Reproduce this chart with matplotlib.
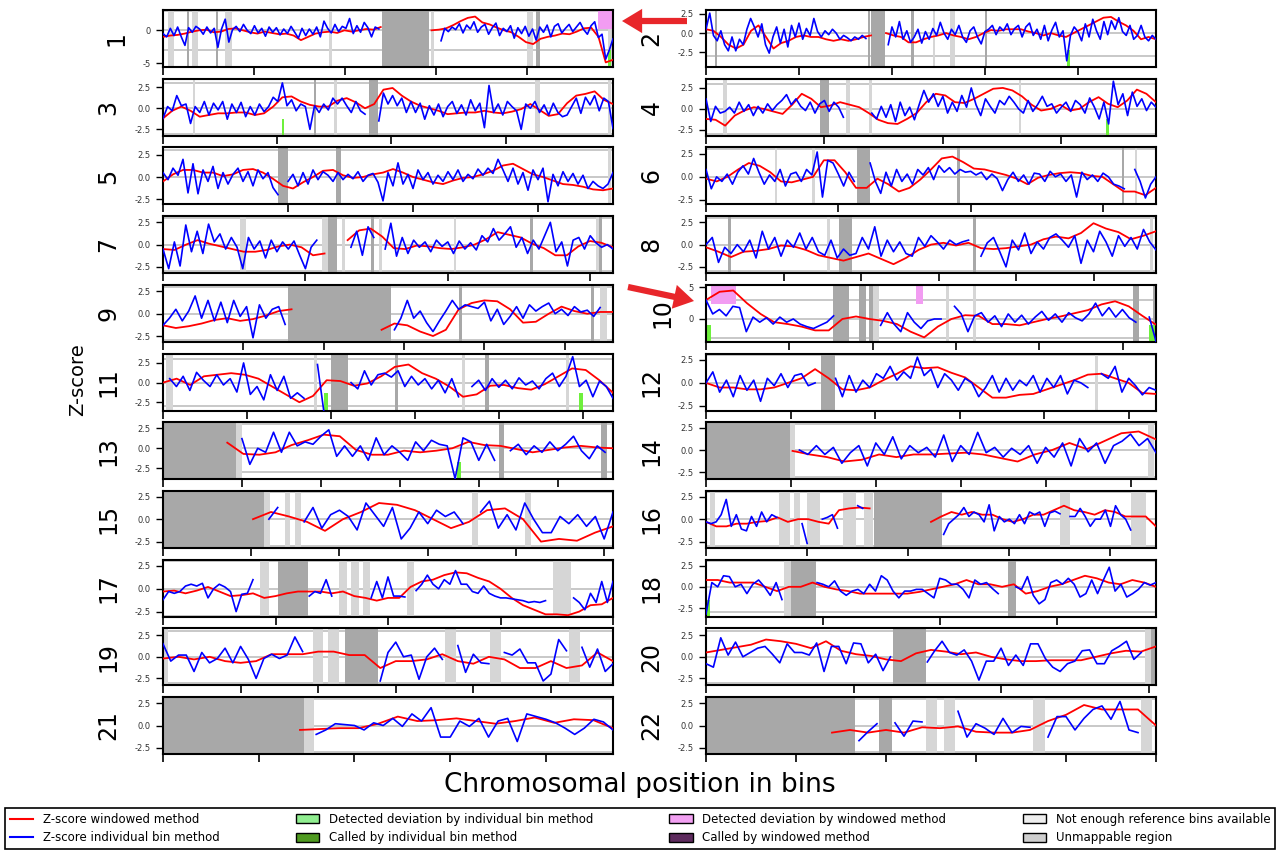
import numpy as np
import matplotlib
matplotlib.use('Agg')
import matplotlib.pyplot as plt
from matplotlib.patches import Patch, FancyArrowPatch, ArrowStyle
from matplotlib.lines import Line2D
from matplotlib.ticker import MaxNLocator

nan = np.nan
plt.rcParams['font.family'] = 'DejaVu Sans'
plt.rcParams['axes.unicode_minus'] = False

# cromosomas y longitud en bins
chroms = [str(i) for i in range(1, 23)]
chrom_len = [247, 242, 197, 190, 180, 170, 158, 145, 140, 135, 134, 133,
             114, 106, 102, 89, 80, 77, 58, 61, 47, 50]
ylims = [(-5.6, 3.1), (-4.4, 3.0), (-3.25, 3.5), (-3.2, 3.6), (-3.1, 3.35), (-3.0, 3.2),
         (-3.2, 3.2), (-3.2, 3.2), (-3.15, 3.25), (-3.6, 5.4), (-3.55, 3.7), (-3.0, 3.2),
         (-3.85, 3.25), (-3.3, 3.15), (-3.2, 3.15), (-3.2, 3.15), (-3.05, 3.2), (-3.5, 3.2),
         (-3.3, 3.3), (-3.3, 3.3), (-3.2, 3.2), (-3.2, 3.2)]

# Z-score individual bin method (azul)
zbin_1 = [-0.5, -1.0, 0.3, -0.8, 0.5, -1.0, -2.3, 0.4, -0.3, 0.6, 0.2, -0.6, 0.5, -0.4, 0.3, -2.6, 0.2, 1.7, -1.8, 0.1,
          0.6, -0.2, 0.9, 0.0, -0.5, 0.7, -0.4, 0.3, -0.9, 0.5, -0.3, 0.4, -0.7, 0.2, -0.5, 0.6, -0.3, -1.2, 0.3, -0.8,
          0.2, -0.6, 0.5, -1.0, 1.4, 0.3, -0.4, 0.9, -0.2, 0.6, 0.3, 1.8, -0.5, 0.7, -0.3, 1.2, 0.4, -1.0, 0.5, 0.2,
          nan, nan, nan, nan, nan, nan, nan, nan, nan, nan, nan, nan, nan, nan, nan, nan,
          -1.6, 0.3, -0.2, 0.5, 0.1, 1.0, -0.4, 0.8, 0.2, 1.3, -0.3, 0.5, 0.9, -0.6, 0.4, 1.1, -0.8, 0.3, -0.2, 0.7,
          -1.2, 0.4, -0.5, 0.6, -0.9, 0.2, -1.5, 0.5, -0.3, 0.8, -1.0, 0.6, 1.0, -0.4, 0.3, 0.9, -0.2, 0.5, 1.2, 0.1,
          -0.6, 0.7, 1.3, -1.1, -0.6, -4.4, -3.0, -1.3]
zbin_2 = [0.5, 2.6, -0.3, -1.0, 0.3, -1.5, -2.3, -0.5, -2.3, -0.8, -1.5, 0.5, 1.9, 0.8, -0.5, 1.2, -1.5, -2.6, -0.5, 0.8,
          -1.3, 0.5, -1.8, 1.0, -0.5, 1.3, -0.8, 0.6, -0.3, 1.9, 0.2, -0.5, 0.3, -0.2, 0.5, 0.0, -0.8, -0.3, -0.6, -1.0,
          -0.5, -0.8, -0.3, -0.7, nan, nan, nan, nan, nan,
          -1.5, 0.8, -0.5, 1.5, -0.8, 0.3, -1.2, -0.5, 0.5, -1.3, 0.2, -0.8, 0.6, -0.3, 1.4, 0.0, -0.8, 0.5, -0.2, 1.0,
          -0.5, -1.2, 0.3, 0.8, -0.5, -1.4, 0.2, 0.5, 1.0, -0.2, 0.8, 0.3, 1.2, -0.2, 0.6, 1.0, -0.5, 0.8, 1.3, -0.3,
          0.5, -0.8, 1.0, -1.0, 0.4, 1.4, -0.5, 0.3, -3.6, -0.3, 0.8, 0.2, -1.0, 1.2, -0.5, 1.8, 0.3, -0.8, 1.5, -0.2,
          1.6, 0.5, 2.0, 0.2, -0.3, 1.0, -0.8, -0.3, 1.0, -0.5, -1.0, -0.3, -0.8]
zbin_3 = [-1.2, 0.2, -0.3, 1.5, 0.3, 0.5, -1.8, 0.2, -0.5, 0.8, -0.8, 0.6, -0.2, 0.8, -1.3, 0.5, -0.5, 0.7, -1.0, 0.2,
          -0.8, 0.5, -0.4, 0.2, 1.3, 0.8, 3.0, 0.3, 1.0, -0.3, 0.5, 0.2, -2.5, 0.3, -0.5, 0.5, -0.2, 1.2, 0.5, 1.2,
          0.3, -0.5, 0.8, -0.3, -0.7, nan, nan,
          -1.5, 1.8, 0.5, 1.5, 0.3, 1.2, -0.5, 0.8, -0.5, 0.6, -1.3, 0.3, -0.8, 0.5, -1.0, 0.2, 0.8, -0.6, 0.4, -0.8,
          1.0, -0.3, 0.6, -2.3, 2.7, -0.5, 0.5, -0.8, 0.8, 0.2, -0.3, -2.5, 0.5, 0.0, 0.8, -0.5, 0.4, -0.8, 0.6, -0.5,
          -1.0, -0.8, 0.2, 1.2, -0.6, 1.3, 0.4, 1.5, -0.3, 1.2, 0.8, -2.4]
zbin_4 = [1.2, -1.5, 0.3, -0.5, -0.3, 0.2, -0.5, 0.8, -0.3, 0.5, -0.8, 0.3, -0.5, 0.6, -0.2, 0.5, 1.0, 1.7, 0.5, 1.2,
          0.3, -0.2, 0.8, -0.5, 0.6, 1.0, -0.3, 0.8, 0.2, -1.0, nan, nan, nan, nan, nan,
          -0.5, -1.2, 0.3, -1.0, 0.5, -1.5, 0.8, -0.8, 0.2, -1.3, 0.5, 2.2, 0.8, 1.8, 0.3, 1.5, -0.5, 0.8, -0.3, 1.6,
          0.2, 2.5, 0.5, -0.8, 1.2, 0.3, -0.5, 1.0, 0.5, 1.5, 0.8, 0.0, -0.5, 1.0, -0.3, 0.5, 1.5, 0.3, 0.6, -0.5,
          0.2, 0.8, -0.3, 1.0, 0.5, -0.5, 1.3, 0.2, -1.2, 0.8, -1.8, 3.3, 0.5, 1.8, -0.8, 2.0, 0.3, 1.2, -0.2, 0.8, 0.2]
zbin_5 = [0.5, -0.3, 1.0, 0.2, 2.0, -1.8, 1.5, -1.9, 0.8, -0.5, 1.2, -1.3, 0.5, -0.8, 0.3, 1.0, -0.5, 0.6, -1.0, 0.8,
          -0.2, 0.5, -1.2, -2.0, nan,
          -0.5, 0.3, -1.0, 0.5, -0.8, 0.8, -0.3, 0.6, 0.2, -0.5, 0.5, -0.3, 0.3, -0.2, 0.6, -0.5, 0.2, 0.4, -0.6, -2.7,
          0.5, -1.0, 1.6, -0.8, 0.3, -1.3, 0.8, -0.3, 0.5, -0.8, 0.2, -0.5, 0.6, -0.3, 0.8, -0.5, 0.3, -0.2, 0.9, 0.2,
          1.0, 0.4, 2.0, 0.8, -0.5, 1.0, -0.8, 0.5, -1.5, 0.8, -0.3, 1.0, -2.8, 0.3, -1.0, 0.6, -0.5, 0.4, -0.8, 0.2,
          -1.3, -0.5, -1.0, -1.3, -0.8, 0.5]
zbin_6 = [0.8, -1.3, 0.0, -0.5, 0.3, -0.8, 0.5, 1.2, 0.3, 2.0, 0.5, -0.8, 0.2, -0.5, 0.8, -1.0, 0.3, 0.5, -0.5, 0.8,
          0.2, 2.7, -2.2, 1.8, 1.5, 0.3, -1.0, 0.5, -0.5, nan, nan,
          1.5, -0.5, -1.8, 0.5, -1.0, 0.8, -0.5, 0.3, -0.8, 0.8, 0.2, 1.0, -0.3, 1.2, 0.5, 1.0, 0.3, 0.8, 0.5, 0.6,
          0.2, 0.5, -0.3, 0.3, -0.2, -1.5, -0.3, 0.5, -0.5, 0.2, -0.8, 0.4, 0.3, -0.5, 0.6, 0.0, 0.3, -0.5, 0.2, -2.2,
          0.5, -0.3, 0.2, -0.5, 0.4, 0.0, -0.8, -1.0, -1.3, nan, 0.8, -0.5, -2.3, -0.8, 0.0]
zbin_7 = [-0.5, -2.7, 0.3, -2.4, 2.2, -0.8, 1.5, -1.0, 2.3, 0.3, 1.2, -0.5, 0.8, -0.3, -2.7, 0.8, -0.5, 0.4, -1.5, 0.5,
          -0.8, 0.3, -0.5, 0.4, -1.2, -2.7, -0.3, 0.5, nan, nan, nan, nan, nan,
          -0.3, 1.5, -1.2, 2.0, 0.8, nan,
          -0.5, 2.4, -1.3, 0.8, -1.0, 0.5, -0.3, 0.3, -0.8, 0.5, -0.2, 0.3, -1.0, 0.4, -0.5, 0.2, -0.6, 1.0, 0.3, 1.8,
          0.5, 1.2, 2.0, -0.3, 0.8, -1.0, 0.5, -0.5, 1.0, 2.5, -0.8, 0.3, -2.4, 0.5, 0.8, -0.5, 1.0, 0.2, -0.3, 0.0, -0.5]
zbin_8 = [0.0, 0.8, -2.0, -0.3, -1.0, 0.0, -0.8, 0.5, -1.5, 1.5, -0.5, 0.8, -1.3, 0.5, -0.3, 1.3, -0.5, 0.8, -0.8, -1.2,
          0.5, -1.5, -0.5, -1.2, -1.0, 0.8, -0.5, 2.0, -1.3, 0.5, -0.8, 0.3, -1.0, -1.3, 0.8, -0.2, 1.0, 0.3, -0.5, 0.5,
          0.0, 0.3, 0.5, nan,
          -1.3, 0.2, 0.8, -0.8, -2.5, 0.5, -0.6, 1.3, -1.0, 0.3, -0.5, 0.8, 1.2, 0.5, -0.3, 1.0, -2.1, 0.5, -0.8, 1.5,
          0.3, -1.3, 1.0, -0.2, 0.8, -0.5, 1.7, 0.3, -0.6]
zbin_9 = [-1.3, -0.5, 0.5, -0.8, 0.3, 2.0, -0.5, 1.5, -0.8, 1.3, -1.0, 1.5, -0.3, 0.8, -2.7, 1.0, -0.5, 0.5, 0.8, -1.2,
          nan, nan, nan, nan, nan, nan, nan, nan, nan, nan, nan, nan, nan, nan, nan, nan,
          -1.8, -0.5, 1.5, -0.5, 0.3, -1.0, -2.0, -0.8, 0.3, 1.5, 0.5, 1.0, 0.8, 0.6, 1.3, -0.8, 0.5, -1.2, -0.3, 0.8,
          -0.5, 1.0, 0.3, 0.8, 1.2, 0.0, 0.5, -0.2, 0.8, 0.2, 0.4, -0.3, 0.7, nan, nan]
zbin_10 = [3.0, 0.8, 1.5, 0.5, 2.0, 1.8, -2.0, 0.3, -0.5, 0.2, -0.8, 0.3, -0.5, 0.0, -0.8, -1.2, -1.5, -1.0, -0.5, 0.5,
           nan, nan, nan, nan, nan, nan,
           -1.0, 1.0, -0.8, -2.0, 1.0, -0.5, -1.5, -0.3, 0.0, 0.0, nan, 2.0, 0.8, -2.0, 0.5,
           1.0, -0.5, 0.5, -1.2, 0.8, -0.5, 0.6, -0.8, 0.3, 1.2, -0.2, 0.8, -0.5, 1.0, 0.2, -0.3, 0.8, 2.5, 0.5, 1.8,
           0.3, 1.5, 0.2, -0.5, nan, 0.3, -3.5]
zbin_11 = [nan, 0.5, -0.5, 0.8, -1.0, 1.3, 0.3, -0.5, 1.0, -0.3, 0.5, -1.2, 2.5, -1.5, -0.5, -2.2, 1.0, -1.0, 0.8, -2.0,
           -1.3, -2.0, nan, 2.3, -4.0, nan, nan, nan,
           0.0, -0.8, 1.5, -0.3, 1.0, 1.2, 0.7,
           1.5, -0.5, 0.8, -0.3, 0.5, -0.8, 0.3, -1.3, 0.5, -1.8, nan, -0.5, 0.3, -1.0, 0.5, -0.6, 0.3, -0.8, 0.6, -0.3,
           0.2, -0.8, 0.5, 1.2, -0.5, 0.8, 3.3, -0.5, 0.3, -1.8, 0.2, -0.5, -2.0]
zbin_12 = [0.0, 1.2, -1.0, 0.3, -1.5, 0.8, -0.8, 0.3, -2.0, 0.5, -0.3, 1.0, -0.5, 0.8, 1.0, -0.3, 0.0, nan, nan,
           0.5, -1.5, 0.8, -1.0, 0.3, -0.5, 1.0, 0.5, 1.8, 0.3, 1.2, 0.5, 2.8, 0.8, 1.5, -0.5, 1.0, 0.3, -0.8, 0.5,
           0.0, -1.5, -0.5, 0.8, -1.0, 0.5, -0.8, 0.3, -0.3, 0.8, -1.0, 0.5, -0.5, 0.8, -1.2, 0.3, 0.0, -0.5, nan,
           1.0, 0.5, 1.8, -1.0, 0.5, -0.3, -1.3, -0.5, -0.8]
zbin_13 = [nan, nan, nan, nan, nan, nan, nan, nan, nan, nan,
           1.2, -2.0, 0.0, -0.5, 2.0, -0.5, 2.0, 0.3, 0.8, 0.5, 1.5, 2.3, -1.0, 0.3, -1.0, 0.3, -1.5, 1.3, -0.8, 0.3,
           -0.5, -1.5, 0.8, -0.3, 1.0, 0.5, 0.3, -3.8, 1.3, 0.8, -1.5, 0.5, -1.5, nan,
           -0.3, 0.5, -0.8, 0.3, -0.5, 0.8, -0.3, 0.5, 1.5, -0.3, -1.3, 0.3, -0.5, nan]
zbin_14 = [nan, nan, nan, nan, nan, nan, nan, nan, nan, nan, nan,
           0.0, -0.5, 0.5, -0.5, 0.3, -1.5, -0.3, 0.5, -1.8, 0.8, -0.5, 1.5, -1.0, 0.5, -0.3, 0.3, -0.8, 1.7, -1.3, 0.5,
           -0.5, 2.0, -0.3, 0.3, -0.8, 0.2, -0.5, 0.5, -1.5, 0.3, -0.8, 0.8, -1.8, 1.3, -0.2, 0.8, -1.5, 0.5, 1.0, 1.8,
           0.5, 1.3, -0.3]
zbin_15 = [nan, nan, nan, nan, nan, nan, nan, nan, nan, nan, nan, nan,
           0.0, 1.3, nan, nan,
           -0.3, 1.3, -1.0, 0.5, 1.0, 0.3, -1.2, 1.8, 0.5, -0.8, 1.3, -2.2, -1.0, 0.8, -0.5, 1.0, 0.3, 0.8, -0.5, nan,
           0.8, 2.0, -1.0, 0.5, -1.2, 1.8,
           0.0, -1.5, -1.5, 0.3, -0.5, 0.5, -0.8, 0.3, -2.2, 0.8]
zbin_16 = [-0.3, -0.5, -0.3, 0.5, 2.2, -0.8, 0.5, -1.1, -1.3, 0.3, -0.8, 0.8, -0.3, 0.5, 0.2,
           nan, nan, nan, nan, -0.5, -2.7, nan, nan, 0.0, 0.2, 0.5, -1.0, nan, nan, nan, 1.5, 1.2,
           nan, nan, nan, nan, nan, nan, nan, nan, nan, nan, nan, nan, nan, nan, nan,
           -1.7, -0.5, 0.0, 0.5, 1.3, 0.3, 0.8, 0.5, -0.3, 1.6, -1.3, 0.3, -0.3, 0.0, -0.5, 0.5, -0.5, 0.8, 0.5, 0.8,
           -0.8, 0.7, 0.9, 0.6, nan,
           0.3, 0.3, 1.2, 0.3, -0.8, 0.0, 0.0, 1.0, -0.8, 1.5, 0.5, 0.0, -1.2, nan, nan, nan, nan, nan]
zbin_17 = [-1.2, -0.3, -0.5, -0.3, 0.3, 0.5, 0.3, 0.6, -1.0, 0.0, 0.5, 0.2, -0.3, -2.5, -0.6, -0.5, 1.0,
           nan, nan, nan, nan, nan, nan, nan, nan, nan,
           -0.8, -0.3, -0.5, 1.0, -0.8, nan, nan, nan, nan, nan, nan,
           -1.0, 0.8, -1.0, 1.3, -0.8, -0.8, -0.9, nan,
           -0.2, 0.5, 1.5, 0.5, 0.0, 1.0, 0.5, 2.0, 0.5, 0.5, -0.3, -0.5, 0.3, -0.5, -0.8, -1.0, -1.0, -1.1, -1.2, -1.3,
           -1.5, -1.4, -1.5, -1.3, nan, nan, nan, nan,
           -1.0, -1.5, -2.3, -0.5, -1.5, 0.8, -1.5, 0.8]
zbin_18 = [-3.2, 0.5, 0.0, 1.3, 1.2, 0.0, 0.3, -0.8, 0.3, 0.8, 0.0, -1.0, 0.5, -1.5, nan, nan, nan, nan, nan,
           0.5, 0.3, 0.0, 0.7, -0.5, -1.0, -0.5, -0.3, -0.8, 0.3, -0.5, 1.3, 0.8, -0.5, -1.3, -0.5, -0.5, -0.3, -0.3, -0.8,
           -1.3, 1.0, 0.8, 0.3, 0.3, -0.3, -1.3, 0.8, 0.3, 0.5, -0.2, -0.8, nan, nan,
           0.0, -0.3, 1.2, -1.0, -2.0, -1.5, 0.5, 0.8, 0.3, 1.0, 0.3, -1.2, -0.8, 0.8, -0.8, 0.8, 2.3, -0.5, 0.3, -1.2,
           -0.8, -0.3, 0.5, 0.2, 0.5]
zbin_19 = [1.5, -0.5, 0.2, 0.2, -1.7, 0.5, -0.7, -0.2, 1.0, -0.7, 1.2, -0.3, -2.5, -0.2, 0.3, -0.2, 0.2, 2.3, 0.6,
           nan, nan, nan, nan, nan, nan, nan, nan, nan,
           -2.8, 0.5, 1.7, 0.0, 0.2, -2.6, 0.0, 1.0, -0.3, nan, 1.3, -1.8, 0.3, -0.7, -0.8, nan,
           0.5, 0.2, 0.9, -0.7, -0.7, -2.8, -2.0, 2.0, 0.7, nan, 1.1, -1.2, 0.9, -1.7, -0.8]
zbin_20 = [-0.8, -1.2, 2.2, 0.2, 1.7, 0.0, 0.5, 1.0, 1.2, 0.3, -0.7, 1.5, 0.5, 0.5, 0.2, 1.6, -1.7, 1.2, 1.2, -0.8,
           1.6, 1.5, -0.7, 0.3, -1.6, 0.0, nan, nan, nan, nan,
           -0.6, 0.7, 1.8, 0.5, 0.2, 0.8, -0.5, -2.7, -0.5, -0.5, 1.0, -1.0, 0.2, -1.0, 1.5, 1.5, -0.2, -1.2, -1.7, -0.8,
           -0.5, 0.7, 0.8, -0.8, -0.8, 0.7, 1.2, 1.8, -0.3, 0.5, nan, nan]
zbin_21 = [nan, nan, nan, nan, nan, nan, nan, nan, nan, nan, nan, nan, nan, nan, nan, nan,
           -1.0, -0.5, 0.2, 0.1, 0.0, -0.5, 0.3, 0.0, 0.8, -0.1, 1.3, 0.5, 2.0, -1.3, -1.3, 0.5, -0.1, 0.8, -1.3, 0.5,
           0.8, -1.8, 1.3, 1.0, 0.7, 0.3, -0.3, -1.0, -0.3, 0.7, 0.4, -0.5]
zbin_22 = [nan, nan, nan, nan, nan, nan, nan, nan, nan, nan, nan, nan, nan, nan, nan, nan, nan,
           -1.7, -0.7, 0.2, nan, 0.3, -1.2, 0.5, 0.4, nan, nan, nan,
           1.6, -1.3, 0.2, -0.3, -1.0, 0.8, -0.8, -0.1, -0.2, nan,
           -1.3, 1.0, 1.0, -0.5, 0.8, 1.8, 2.2, 0.7, 2.7, -0.5, -0.8, nan, nan]

# Z-score windowed method (rojo)
zwin_1 = [-1.0, -0.8, -0.7, -0.5, -0.2, 0.0, 0.1, -0.3, -0.2, 0.2, 0.3, 0.0, -0.3, -0.5, -0.2, -0.4, -0.6, -0.5, -0.8, -1.5,
          -1.0, -0.5, -0.3, -0.2, -0.4, 0.0, -0.2, 0.0, 0.2, 0.1, 0.5, nan, nan, nan, nan, nan, nan,
          0.0, 0.1, 0.3, 0.8, 1.4, 1.9, 2.1, 1.2, 0.9, 0.4, 0.0, -0.3, -1.0, -1.8, -2.1, -1.3, -1.0, -0.8, -0.5, -0.6,
          -0.2, 0.3, 0.4, -1.0, -4.9, -4.5]
zwin_2 = [0.5, 0.3, -0.5, -1.5, -2.0, -1.5, 0.3, 1.0, -0.5, -2.0, -1.3, -1.0, -0.5, -0.3, -0.5, -0.5, -0.8, -1.0, -0.8, -1.0,
          -0.8, -0.5, -0.3, nan, 0.0, -0.3, -0.5, -1.2, -1.2, -0.8, -0.5, -0.3, 0.0, -0.3, -0.5, -0.8, -0.5, 0.0, 0.4, 0.3,
          0.5, 0.5, 0.5, 0.2, 0.0, -0.3, 0.0, -0.3, -0.5, 0.0, 0.5, 1.0, 1.5, 2.0, 2.1, 1.5, 1.0, 0.3, -0.8, -0.5, -0.8]
zwin_3 = [-1.2, -0.3, 0.2, -0.3, -1.0, -0.8, -0.6, -0.6, -0.5, -0.5, -0.8, -0.6, 0.2, 1.3, 1.4, 0.8, 0.4, 0.2, 0.2, 0.9,
          1.2, 0.7, 0.0, 0.5, 2.2, 2.4, 1.5, 0.8, 0.3, 0.0, -0.3, -0.7, -0.6, -0.5, -0.5, -0.3, -0.5, -0.6, -0.4, -0.1,
          0.5, -0.2, -0.9, -0.7, 0.6, 1.5, 1.7, 2.0, 1.0, 0.5]
zwin_4 = [-1.2, -1.3, -2.0, -0.8, -0.2, 0.2, 0.0, -0.3, -0.6, 0.5, 1.8, 1.2, 0.2, 0.4, 0.8, 0.5, 0.2, -0.5, -1.3, -1.7,
          -1.8, -1.2, -0.5, 0.8, 1.8, 1.6, 0.8, 0.7, 1.2, 1.8, 2.4, 2.5, 2.2, 1.5, 0.5, -0.2, 0.0, 0.5, -0.2, 0.0,
          0.8, 1.4, 0.6, 0.2, 1.0, 2.3, 1.8, 0.8]
zwin_5 = [-0.5, 0.3, 0.8, 0.8, 0.5, 0.5, 0.1, 0.3, 0.8, 0.9, 0.5, -0.2, -1.0, -1.3, -0.6, 0.0, 0.7, 0.8, 0.2, -0.1,
          0.0, 0.3, 0.5, 0.9, 0.5, 0.0, -0.3, -0.6, -0.8, -0.4, -0.1, 0.0, 0.3, 0.7, 1.3, 1.5, 0.9, 0.3, 0.0, -0.4,
          -0.8, -0.9, -1.1, -1.4, -1.5, -1.3]
zwin_6 = [-0.2, -0.5, 0.0, 0.8, 1.5, 1.2, 0.5, -0.5, -0.6, -0.3, 0.0, 1.8, 1.8, 0.5, -1.2, -1.2, -0.2, -0.8, -1.6, -1.2,
          -0.3, 0.8, 2.0, 2.2, 1.6, 0.9, 0.8, 0.5, 0.2, -0.2, -0.8, -0.1, 0.2, 0.4, 0.5, 0.4, 0.1, 0.0, -0.8, -1.6,
          -1.6, -2.0, -1.2]
zwin_7 = [-0.5, -0.6, 0.0, 0.5, 0.1, -0.2, -0.5, -0.8, -0.8, -0.6, -0.2, 0.0, -0.3, -1.2, -1.0, nan, 0.5, 1.6, 1.8, 0.9,
          -0.4, -0.5, -0.1, -0.2, -0.4, -0.5, -0.3, 0.0, 0.6, 1.4, 1.1, 0.8, 0.1, -0.4, -1.2, -1.2, -0.2, 0.4, 0.2, -0.3]
zwin_8 = [-0.3, -0.8, -1.4, -0.8, -0.7, -0.5, -0.1, -0.2, -0.6, -1.2, -1.5, -1.8, -1.4, -1.0, -1.6, -2.2, -1.5, -0.6, 0.0, 0.2,
          -0.1, 0.2, -0.4, -0.5, -0.4, -0.2, 0.0, 0.6, 0.9, 0.7, 1.3, 2.4, 1.8, 1.4, 0.6, 1.0, 1.5]
zwin_9 = [-1.3, -1.6, -1.4, -1.1, -0.7, -0.5, -0.8, -0.6, -0.2, 0.3, 0.5, nan, nan, nan, nan, nan, nan,
          -1.8, -1.1, -1.3, -2.0, -2.5, -1.8, 0.5, 1.2, 1.5, 1.4, 0.5, -1.0, -0.9, 0.0, 0.8, 0.3, 0.0, 0.2, 0.2]
zwin_10 = [3.0, 4.3, 4.5, 2.5, 0.8, -0.5, -0.8, -1.2, -1.8, -1.8, 0.0, 0.4, 0.0, -0.3, -0.8, -2.0, -2.9, -1.2, 0.0, 0.6,
           0.5, -0.8, -0.8, -1.0, -0.5, 0.0, 0.4, 0.9, 1.4, 2.3, 2.8, 2.0, 0.5, -0.9]
zwin_11 = [0.0, 0.5, -0.3, 0.8, 1.0, 1.2, 1.0, 0.5, -0.5, -1.5, -2.5, -1.7, 0.3, 0.2, -0.4, -0.1, 0.8, 2.0, 2.3, 1.2,
           0.5, -0.5, -1.8, -1.5, -0.4, -0.3, -0.7, -0.9, -0.2, 0.8, 1.8, 1.6, 0.3, -1.3]
zwin_12 = [0.0, -0.5, -0.5, -0.7, -0.7, -0.5, 0.0, 0.5, 1.5, 0.5, -0.7, -0.8, -0.5, 0.3, 1.0, 1.8, 1.6, 1.7, 1.1, 0.6,
           -0.5, -1.6, -1.6, -1.3, -1.2, -0.7, -0.2, 0.3, 0.9, 1.0, 0.5, 0.0, -1.1, -1.2]
zwin_13 = [nan, nan, nan, nan, 0.7, -0.7, -0.8, -0.5, 0.4, 1.0, 1.7, 1.5, -0.2, -0.8, -0.8, -0.3, -0.5, -0.3, 0.0, 0.8,
           0.4, 0.3, -0.1, -0.5, -0.2, 0.1, 0.3, 0.1, 0.0]
zwin_14 = [nan, nan, nan, nan, nan, -0.1, -0.5, -0.8, -1.3, -1.1, -0.5, -0.8, -0.5, -0.5, -0.4, -0.3, -0.5, -0.9, -1.3, -0.5,
           0.0, 0.8, 0.1, 1.0, 1.9, 2.1, 1.2]
zwin_15 = [nan, nan, nan, nan, nan, 0.0, 0.8, 0.3, -0.3, -1.3, 0.0, 0.8, 1.8, 1.6, 1.0, 0.0, -1.0, -0.3, 1.0, 1.2,
           0.0, -2.5, -2.2, -2.4, -1.5, -0.8]
zwin_16 = [-0.3, -0.8, -0.8, -0.5, -0.5, -0.3, -0.2, 0.2, -0.3, 0.0, 0.0, -0.3, -0.5, 1.0, 1.2, 1.3, 1.2,
           nan, nan, nan, nan, nan,
           -0.3, 0.3, 0.8, 0.5, 0.8, 0.5, 0.5, 0.0, -0.3, 0.0, 0.5, 0.5, 1.0, 1.5, 1.0, 0.8, 0.5, 1.0, 0.8, 0.3,
           0.3, 0.3, -0.8]
zwin_17 = [-0.3, -0.2, -0.5, -0.2, 0.2, -0.3, -0.8, -0.7, -0.5, -1.0, -0.8, -0.5, -0.3, -0.3, -0.3, -0.5, -0.3, -0.8, -1.0, -1.3,
           -1.0, -1.0, 0.2, 0.8, 1.0, 1.5, 1.8, 1.7, 1.2, 0.8, 0.0, -1.0, -1.8, -2.3, -2.8, -2.8, -2.9, -2.5, -1.8, -1.7, -1.0]
zwin_18 = [0.8, 0.8, 0.5, 0.5, 0.5, 0.0, -0.5, 0.0, 0.0, 0.5, 0.0, -0.3, -0.5, -0.8, -0.8, -0.8, -0.8, -0.8, -0.6, -0.3,
           0.0, 0.3, 0.8, 0.3, 0.3, 0.0, 0.3, -0.8, -0.5, 0.0, 0.3, 0.8, 1.3, 1.0, 0.5, 0.3, 0.8, 0.5, 0.0]
zwin_19 = [-0.2, 0.0, -0.3, 0.0, -0.5, -0.7, -0.5, 0.3, 0.3, 0.3, 0.6, 0.6, 0.2, 0.2, -1.3, -0.5, -0.5, -0.3, 0.3, -0.5,
           -0.8, 0.0, -0.3, -1.3, -1.3, -0.5, -1.3, -1.0, 0.5, -0.5]
zwin_20 = [0.5, 0.8, 1.1, 1.4, 2.0, 1.8, 1.5, 1.0, 1.8, 0.7, 0.3, 0.1, -0.3, -0.5, 0.4, 0.8, 0.6, 0.3, 0.5, 0.0,
           -0.3, -0.5, -0.5, -0.4, -0.4, -0.4, 0.0, 0.4, 0.7, 0.6, 1.2]
zwin_21 = [nan, nan, nan, nan, nan, nan, nan, -0.5, -0.4, -0.3, -0.3, 0.2, 1.0, 0.5, 0.6, 0.8, 0.5, 0.2, 0.5, 0.9,
           0.3, 0.7, 0.6, -0.3]
zwin_22 = [nan, nan, nan, nan, nan, nan, nan, -0.8, -0.5, -0.8, -0.5, -0.8, -0.2, -0.3, -0.1, -0.7, -0.8, -0.8, -0.5, 0.5,
           1.2, 2.3, 1.8, 1.8, 1.8, 0.0]

zbin = [zbin_1, zbin_2, zbin_3, zbin_4, zbin_5, zbin_6, zbin_7, zbin_8, zbin_9, zbin_10, zbin_11,
        zbin_12, zbin_13, zbin_14, zbin_15, zbin_16, zbin_17, zbin_18, zbin_19, zbin_20, zbin_21, zbin_22]
zwin = [zwin_1, zwin_2, zwin_3, zwin_4, zwin_5, zwin_6, zwin_7, zwin_8, zwin_9, zwin_10, zwin_11,
        zwin_12, zwin_13, zwin_14, zwin_15, zwin_16, zwin_17, zwin_18, zwin_19, zwin_20, zwin_21, zwin_22]

# regiones (en bins)
unmappable = [
    [(3, 6), (16, 19), (34, 38), (91, 93), (147, 149), (200, 203), (244, 247)],
    [(122, 123), (131, 134)],
    [(13, 14), (75, 76), (163, 165), (195, 196)],
    [(7, 9), (59, 61), (69, 70), (132, 133)],
    [(178, 179)],
    [(26, 27), (40, 41), (162, 163)],
    [(27, 29), (56, 58), (63, 64), (76, 77), (102, 103), (152, 153)],
    [(39, 40), (143, 144)],
    [(136, 138)],
    [(50, 52), (72, 73), (80, 81)],
    [(1, 3), (45, 46), (89, 90), (120, 121)],
    [(115, 116)],
    [(18.6, 20)],
    [(19.8, 21), (104, 105.6)],
    [(23, 24.2), (27.7, 28.7), (30, 31.3), (70, 71.4), (82, 83.5)],
    [(0.7, 1.7), (14.4, 16.7), (17.4, 18.6), (20, 22.6), (27, 29.6), (31.3, 33), (70, 72), (84, 87)],
    [(17.3, 18.8), (31.3, 32.7), (33.4, 34.8), (35.6, 36.8), (43.3, 44.7), (69.4, 72.6)],
    [(13.3, 14.5)],
    [(0, 0.7), (19.3, 20.6), (21.3, 22.7), (36.4, 37.7), (42.2, 43.6), (52.3, 53.7)],
    [(59.5, 60.3)],
    [(14.7, 15.8)],
    [(24.4, 25.7), (26.4, 27.7), (36.3, 37.7), (48.3, 49.6)],
]
no_reference = [
    [(13, 14), (29, 30), (120, 146), (205, 207)],
    [(5, 6), (87, 88), (89, 96), (110, 112), (150, 151)],
    [(66, 67), (90, 94)],
    [(48, 52)],
    [(46, 50), (69, 71)],
    [(57, 62), (95, 96), (157, 158)],
    [(58, 61), (73, 74), (129, 130), (153, 154)],
    [(7, 8), (43, 47), (86, 87)],
    [(39, 71), (92, 93), (133, 134)],
    [(38, 43), (46, 48), (49, 50), (128, 130), (134, 135)],
    [(50, 55), (69, 70), (96, 97)],
    [(34, 38)],
    [(0, 18.6), (85, 86.5), (111, 112.5)],
    [(0, 19.8)],
    [(0, 23)],
    [(33.2, 46.7)],
    [(20.4, 25.8)],
    [(14.5, 18.8), (51.6, 53)],
    [(23.4, 27.7)],
    [(25.4, 29.8), (60.3, 61)],
    [(0, 14.7)],
    [(0, 16.6), (19.2, 20.7)],
]
# desviaciones detectadas: {indice cromosoma: [(inicio, fin)]}
detected_bin = {0: [(244, 246)], 1: [(194, 196)], 2: [(52, 53)], 3: [(169, 170)],
                9: [(0, 1.5), (133, 135)], 10: [(48, 49), (124, 125)], 12: [(74.5, 75.5)], 17: [(0, 0.7)]}
detected_win = {0: [(239, 247)], 9: [(1.5, 9), (63, 65)]}

W, H = 1282, 850
fig = plt.figure(figsize=(W / 100, H / 100), dpi=100)

for k, c in enumerate(chroms):
    row, col = k // 2, k % 2
    left = (163 if col == 0 else 706) / W
    top = 10 + 68.7 * row
    ax = fig.add_axes([left, 1 - (top + 57) / H, 450 / W, 57 / H])
    L = chrom_len[k]
    for yy in (-3, 0, 3):
        ax.axhline(yy, color='#c4c4c4', lw=1.3, zorder=1)
    for a, b in unmappable[k]:
        ax.axvspan(a, b, color='#d6d6d6', lw=0, zorder=1.5)
    for a, b in no_reference[k]:
        ax.axvspan(a, b, color='#a8a8a8', lw=0, zorder=1.6)
    for a, b in detected_win.get(k, []):
        ax.axvspan(a, b, ymin=0.67, ymax=1, color='#f29cf2', lw=0, zorder=2)
    for a, b in detected_bin.get(k, []):
        ax.axvspan(a, b, ymin=0, ymax=0.3, color='#6ef03c', lw=0, zorder=2)
    r = np.array(zwin[k], dtype=float)
    ax.plot(np.linspace(0, L, len(r)), r, color='red', lw=1.3, zorder=3)
    bl = np.array(zbin[k], dtype=float)
    ax.plot(np.linspace(0, L, len(bl)), bl, color='blue', lw=1.2, zorder=4)
    ax.set_xlim(0, L)
    ax.set_ylim(ylims[k])
    ax.xaxis.set_major_locator(MaxNLocator(nbins=6, steps=[1, 2, 2.5, 5, 10]))
    ax.yaxis.set_major_locator(MaxNLocator(nbins=3, steps=[1, 2, 2.5, 5, 10]))
    ax.tick_params(axis='x', labelbottom=False, length=5.5, width=1.2)
    ax.tick_params(axis='y', length=5, width=1.0, labelsize=6, pad=4, labelcolor='#333333')
    for s in ax.spines.values():
        s.set_linewidth(1.5)
    ax.set_ylabel(c, fontsize=17, labelpad=10)

fig.text(78 / W, 1 - 380 / H, 'Z-score', rotation=90, fontsize=14, ha='center', va='center')
fig.text(640 / W, 1 - 785 / H, 'Chromosomal position in bins', fontsize=19, ha='center', va='center')

# flechas rojas
arrow_style = ArrowStyle.Simple(head_length=1.45, head_width=1.75, tail_width=0.45)
for (x0, y0), (x1, y1) in [((687, 21), (622, 21)), ((628, 287), (694, 301))]:
    fig.add_artist(FancyArrowPatch((x0 / W, 1 - y0 / H), (x1 / W, 1 - y1 / H), transform=fig.transFigure,
                                   arrowstyle=arrow_style, mutation_scale=10, color='#e8262a',
                                   shrinkA=0, shrinkB=0, lw=0))

handles = [
    Line2D([], [], color='red', lw=1.5, label='Z-score windowed method'),
    Line2D([], [], color='blue', lw=1.5, label='Z-score individual bin method'),
    Patch(facecolor='#90ee90', edgecolor='black', label='Detected deviation by individual bin method'),
    Patch(facecolor='#4f9a20', edgecolor='black', label='Called by individual bin method'),
    Patch(facecolor='#f2a0f2', edgecolor='black', label='Detected deviation by windowed method'),
    Patch(facecolor='#5e2b5e', edgecolor='black', label='Called by windowed method'),
    Patch(facecolor='#eeeeee', edgecolor='black', label='Not enough reference bins available'),
    Patch(facecolor='#cfcfcf', edgecolor='black', label='Unmappable region'),
]
leg = fig.legend(handles=handles, loc='lower left', bbox_to_anchor=(5 / W, 1 / H, 1270 / W, 41 / H),
                 mode='expand', ncol=4, fontsize=8.5, fancybox=False, edgecolor='black', framealpha=1,
                 borderaxespad=0, handlelength=2.0, handleheight=0.8, labelspacing=0.45, borderpad=0.4,
                 handletextpad=0.8)
leg.get_frame().set_linewidth(1.2)

fig.savefig('out.png', dpi=100)
